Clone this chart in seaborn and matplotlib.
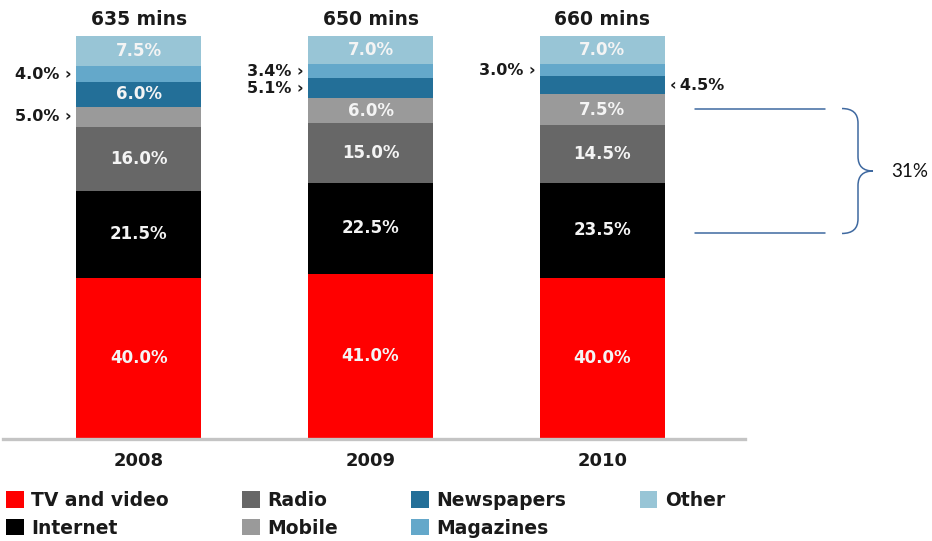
import matplotlib
matplotlib.use("Agg")
import matplotlib.pyplot as plt
import matplotlib.transforms as mtransforms
from matplotlib.path import Path
from matplotlib.patches import PathPatch, Patch
import pandas as pd
import seaborn as sns

# ---- data -------------------------------------------------------------
years = ["2008", "2009", "2010"]
total_minutes = [635, 650, 660]

series = ["TV and video", "Internet", "Radio", "Mobile",
          "Newspapers", "Magazines", "Other"]
tv_video = [40.0, 41.0, 40.0]
internet = [21.5, 22.5, 23.5]
radio = [16.0, 15.0, 14.5]
mobile = [5.0, 6.0, 7.5]
newspapers = [6.0, 5.1, 4.5]
magazines = [4.0, 3.4, 3.0]
other = [7.5, 7.0, 7.0]

bracket_label = "31%"
bracket_span = 31.0   # internet + mobile share, 2010

# ---- styling ----------------------------------------------------------
colors = ["#ff0000", "#000000", "#676767", "#9a9a9a",
          "#236f98", "#64a8ca", "#98c5d6"]

# small segments labelled beside the bar rather than inside it
side_labels = {
    ("Magazines", "2008"): "left",
    ("Mobile", "2008"): "left",
    ("Magazines", "2009"): "left",
    ("Newspapers", "2009"): "left",
    ("Magazines", "2010"): "left",
    ("Newspapers", "2010"): "right",
}

sns.set_theme(style="white")
plt.rcParams["font.family"] = ["DejaVu Sans"]

shares = [tv_video, internet, radio, mobile, newspapers, magazines, other]
rows = []
for name, vals in zip(series, shares):
    for yr, v in zip(years, vals):
        rows.append({"year": yr, "series": name, "share": v})
df = pd.DataFrame(rows)
df["series"] = pd.Categorical(df["series"], categories=series, ordered=True)
df = df.sort_values(["year", "series"])
df["top"] = df.groupby("year")["share"].cumsum()
df["bottom"] = df["top"] - df["share"]
df["mid"] = df["bottom"] + df["share"] / 2

W, H = 932, 541
fig = plt.figure(figsize=(W / 100, H / 100), dpi=100, facecolor="white")
ax = fig.add_axes([3 / W, (H - 439) / H, (745 - 3) / W, (439 - 36) / H])

bar_w = 0.54
# stacked bars: draw cumulative heights from the top layer downwards
for name, col in reversed(list(zip(series, colors))):
    sub = df[df["series"] == name]
    sns.barplot(data=sub, x="year", y="top", order=years, color=col,
                saturation=1, width=bar_w, linewidth=0, errorbar=None, ax=ax)

ax.set_ylim(0, 100)
ax.set_xlim(-0.585, 2.615)
ax.set_xlabel("")
ax.set_ylabel("")
ax.set_yticks([])
for s in ["left", "right", "top"]:
    ax.spines[s].set_visible(False)
ax.spines["bottom"].set_color("#c4c4c4")
ax.spines["bottom"].set_linewidth(2.4)
ax.set_xticks(range(len(years)))
ax.set_xticklabels(years, fontsize=13, fontweight="bold", color="#1a1a1a")
ax.tick_params(axis="x", length=0, pad=9)

# segment labels
xpos = {yr: i for i, yr in enumerate(years)}
for _, r in df.iterrows():
    i = xpos[r["year"]]
    side = side_labels.get((r["series"], r["year"]))
    txt = f"{r['share']:.1f}%"
    if side == "left":
        ax.text(i - bar_w / 2 - 0.017, r["mid"], txt + " \u203a",
                ha="right", va="center", fontsize=11.5, fontweight="bold",
                color="#1a1a1a")
    elif side == "right":
        ax.text(i + bar_w / 2 + 0.02, r["mid"], "\u2039\u2009" + txt,
                ha="left", va="center", fontsize=11.5, fontweight="bold",
                color="#1a1a1a")
    else:
        ax.text(i, r["mid"], txt, ha="center", va="center", fontsize=12,
                fontweight="bold", color="#f4f4f4")

# totals above bars
for i, m in enumerate(total_minutes):
    ax.text(i, 104, f"{m} mins", ha="center", va="center", fontsize=13.5,
            fontweight="bold", color="#1a1a1a", clip_on=False)

# bracket annotation on the right
trans = mtransforms.blended_transform_factory(fig.transFigure, ax.transData)
top_y = 82.0
bot_y = top_y - bracket_span
mid_y = (top_y + bot_y) / 2
line_col = "#3f69a0"
for yv in (top_y, bot_y):
    ax.plot([695 / W, 825 / W], [yv, yv], color=line_col, lw=1.1,
            transform=trans, clip_on=False)

x0, xv, xt = 842 / W, 858 / W, 873 / W
r = 3.6
verts = [(x0, top_y), (xv, top_y), (xv, top_y - r),
         (xv, mid_y + r), (xv, mid_y), (xt, mid_y),
         (xv, mid_y), (xv, mid_y - r),
         (xv, bot_y + r), (xv, bot_y), (x0, bot_y)]
codes = [Path.MOVETO, Path.CURVE3, Path.CURVE3,
         Path.LINETO, Path.CURVE3, Path.CURVE3,
         Path.CURVE3, Path.CURVE3,
         Path.LINETO, Path.CURVE3, Path.CURVE3]
ax.add_patch(PathPatch(Path(verts, codes), facecolor="none",
                       edgecolor=line_col, lw=1.1, transform=trans,
                       clip_on=False))
ax.text(891 / W, mid_y, bracket_label, transform=trans, ha="left",
        va="center", fontsize=13.5, family=["Lato", "DejaVu Sans"],
        color="#111111", clip_on=False)

# legend
handles = [Patch(facecolor=c, edgecolor="none") for c in colors]
leg = fig.legend(handles, series, ncol=4, loc="upper left",
                 bbox_to_anchor=(6 / W, 1 - 491 / H), frameon=False,
                 borderpad=0, borderaxespad=0, handlelength=0.95,
                 handleheight=0.95, handletextpad=0.4, columnspacing=3.9,
                 labelspacing=0.47, prop={"weight": "bold", "size": 13.5})
for t in leg.get_texts():
    t.set_color("#1a1a1a")

fig.savefig("out.png", dpi=100, facecolor="white")
